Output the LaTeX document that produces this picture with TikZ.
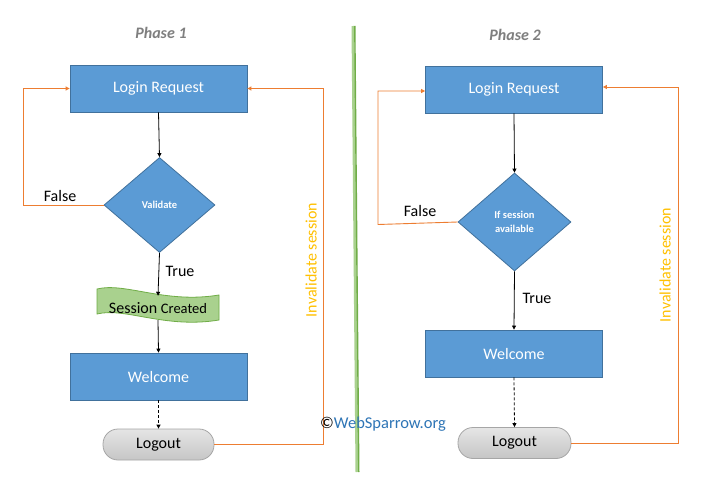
\documentclass[tikz,border=0pt]{standalone}
\usepackage{fontspec}
\setmainfont{Carlito}
\usetikzlibrary{shapes.geometric,arrows.meta}
\definecolor{boxblue}{HTML}{5B9BD5}
\definecolor{boxedge}{HTML}{41719C}
\definecolor{loopc}{HTML}{ED7D31}
\definecolor{goldc}{HTML}{FFC000}
\definecolor{titlegray}{HTML}{7F7F7F}
\definecolor{linkblue}{HTML}{2E75B6}
\definecolor{sessfill}{HTML}{A9D18E}
\definecolor{sessedge}{HTML}{70AD47}
\definecolor{glight}{HTML}{A9D18E}
\definecolor{gdark}{HTML}{70AD47}
\definecolor{endfill}{HTML}{D0D0D0}
\definecolor{endedge}{HTML}{A6A6A6}
\tikzset{
  procbox/.style={rectangle, fill=boxblue, draw=boxedge, line width=0.8pt,
    minimum width=177pt, minimum height=47pt, inner sep=0pt, text=white,
    font=\fontsize{16}{19}\selectfont},
  decision/.style={diamond, fill=boxblue, draw=boxedge, line width=0.8pt,
    inner sep=0pt, text=white, align=center,
    font=\bfseries\fontsize{10.5}{14}\selectfont},
  endbox/.style={rectangle, rounded corners=15pt, top color=endfill!55, bottom color=endfill!95!black,
    draw=endedge, line width=0.8pt, minimum width=111pt, minimum height=31pt,
    inner sep=0pt, font=\fontsize{16}{19}\selectfont},
  flow/.style={draw=black, line width=0.8pt, -{Triangle[length=4pt,width=4pt]}},
  dflow/.style={flow, dash pattern=on 3pt off 2pt},
  loopline/.style={draw=loopc, line width=0.9pt, -{Triangle[length=4pt,width=4pt]}},
  lbl/.style={font=\fontsize{16}{19}\selectfont, text=black, inner sep=0pt},
  vlbl/.style={font=\fontsize{16}{19}\selectfont, text=goldc, rotate=90, inner sep=0pt},
  phase/.style={font=\bfseries\itshape\fontsize{16}{19}\selectfont, text=titlegray, inner sep=0pt}
}
\begin{document}
\begin{tikzpicture}[x=1pt,y=-1pt]
\useasboundingbox[fill=white] (0,0) rectangle (712,484);

% divider
\draw[glight, line width=3pt] (353,26) -- (357,472);
\draw[gdark, line width=1.4pt] (354.8,26) -- (358.8,472);

% ---------- Phase 1 ----------
\node[phase] (ph1) at (161,33) {Phase 1};
\node[procbox] (login1) at (158.5,88.5) {Login Request};
\node[decision, minimum width=111pt, minimum height=95pt] (val) at (159.5,205) {Validate};
\draw[sessedge, fill=sessfill, line width=0.8pt]
  (97,289) .. controls (125,282) and (165,304) .. (219,295)
  -- (219,320) .. controls (165,329) and (125,307) .. (97,314) -- cycle;
\node[inner sep=0pt, minimum width=122pt, minimum height=24pt] (sess) at (158,308)
  {\fontsize{16}{19}\selectfont Session \fontsize{14.5}{17}\selectfont Created};
\node[procbox] (wel1) at (158.5,376.5) {Welcome};
\node[endbox] (out1) at (158.5,444.5) {Logout};

\draw[flow] (login1.south) -- (val.north);
\draw[flow] (val.south) -- (sess.north);
\draw[flow] (sess.south) -- (wel1.north);
\draw[dflow] (wel1.south) -- (out1.north);
\node[lbl] (t1) at (180,271) {True};
\node[lbl] (f1) at (60,196) {False};
\draw[loopline] (val.west) -- (23,205) |- (login1.west);
\draw[loopline] (out1.east) -- (323,444.5) |- (login1.east);
\node[vlbl] (inv1) at (311,260) {Invalidate session};

% ---------- Phase 2 ----------
\node[phase] (ph2) at (515,35) {Phase 2};
\node[procbox] (login2) at (514,89.5) {Login Request};
\node[decision, minimum width=113pt, minimum height=98pt] (dec2) at (514.5,222)
  {If session\\available};
\node[procbox] (wel2) at (514,353.5) {Welcome};
\node[endbox, minimum width=113pt] (out2) at (514.5,443) {Logout};

\draw[flow] (login2.south) -- (dec2.north);
\draw[flow] (dec2.south) -- (wel2.north);
\draw[dflow] (wel2.south) -- (out2.north);
\node[lbl] (t2) at (537,298) {True};
\node[lbl] (f2) at (420,211) {False};
\draw[loopline] (dec2.west) -- (378,224.5) |- ([yshift=-1.5pt]login2.west);
\draw[loopline] (out2.east) -- (678,443) |- ([yshift=2.5pt]login2.east);
\node[vlbl] (inv2) at (665,265) {Invalidate session};

% copyright
\node[inner sep=0pt, font=\fontsize{16.5}{19}\selectfont] (copy) at (383,424)
  {\textcolor{black}{©}\textcolor{linkblue}{WebSparrow.org}};
\end{tikzpicture}
\end{document}
